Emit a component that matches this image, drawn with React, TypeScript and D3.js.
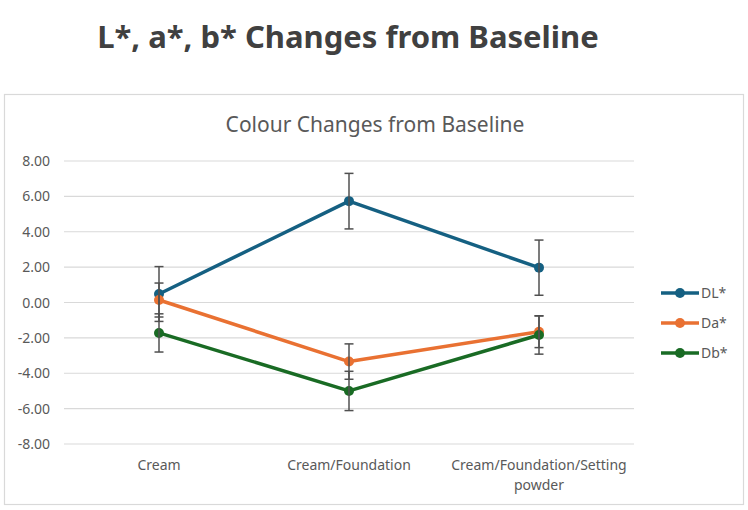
import { useEffect, useRef } from "react";
import * as d3 from "d3";

const width = 748;
const height = 510;

const categories = ["Cream", "Cream/Foundation", "Cream/Foundation/Setting powder"];
const seriesNames = ["DL*", "Da*", "Db*"];
const colors = ["#156082", "#E97132", "#196B24"];

// means and error amounts per series
const dlValues = [0.48, 5.73, 1.97];
const daValues = [0.14, -3.34, -1.65];
const dbValues = [-1.72, -5.0, -1.84];
const dlErrors = [1.55, 1.57, 1.56];
const daErrors = [0.96, 1.0, 0.9];
const dbErrors = [1.08, 1.11, 1.08];

const yTicks = [-8, -6, -4, -2, 0, 2, 4, 6, 8];

export default function App() {
    const ref = useRef<SVGSVGElement>(null);

    useEffect(() => {
        const svg = d3.select(ref.current);
        svg.selectAll("*").remove();

        const series = [dlValues, daValues, dbValues].map((vals, i) => ({
            name: seriesNames[i],
            color: colors[i],
            points: vals.map((v, j) => ({ cat: categories[j], value: v, err: [dlErrors, daErrors, dbErrors][i][j] })),
        }));

        const x = d3.scalePoint<string>().domain(categories).range([64, 634]).padding(0.5);
        const y = d3.scaleLinear().domain([-8, 8]).range([444, 161]);

        svg.append("rect")
            .attr("width", width).attr("height", height).attr("fill", "#fff");

        // page title
        svg.append("text")
            .attr("x", 348).attr("y", 48)
            .attr("text-anchor", "middle")
            .attr("font-family", "Noto Sans")
            .attr("font-weight", "bold")
            .attr("font-size", 31)
            .attr("fill", "#404040")
            .text("L*, a*, b* Changes from Baseline");

        // chart frame
        svg.append("rect")
            .attr("x", 4.5).attr("y", 94.5)
            .attr("width", 739).attr("height", 410)
            .attr("fill", "#fff")
            .attr("stroke", "#d9d9d9")
            .attr("stroke-width", 1.2);

        svg.append("text")
            .attr("x", 375).attr("y", 132)
            .attr("text-anchor", "middle")
            .attr("font-family", "Noto Sans")
            .attr("font-size", 21)
            .attr("fill", "#595959")
            .text("Colour Changes from Baseline");

        // grid
        svg.append("g").selectAll("line")
            .data(yTicks).enter().append("line")
                .attr("x1", 64).attr("x2", 634)
                .attr("y1", d => y(d)).attr("y2", d => y(d))
                .attr("stroke", "#d9d9d9")
                .attr("stroke-width", 1.2);

        svg.append("g").selectAll("text")
            .data(yTicks).enter().append("text")
                .attr("x", 50).attr("y", d => y(d) + 5)
                .attr("text-anchor", "end")
                .attr("font-family", "Noto Sans")
                .attr("font-size", 14)
                .attr("fill", "#595959")
                .text(d => d.toFixed(2));

        // category labels, last one wraps
        const xl = svg.append("g");
        categories.forEach(c => {
            const parts = c === "Cream/Foundation/Setting powder" ? ["Cream/Foundation/Setting", "powder"] : [c];
            parts.forEach((p, k) => {
                xl.append("text")
                    .attr("x", x(c)!).attr("y", 470 + k * 20)
                    .attr("text-anchor", "middle")
                    .attr("font-family", "Noto Sans")
                    .attr("font-size", 14)
                    .attr("fill", "#595959")
                    .text(p);
            });
        });

        const line = d3.line<{ cat: string, value: number }>()
            .x(d => x(d.cat)!)
            .y(d => y(d.value));

        series.forEach(s => {
            const g = svg.append("g");
            g.append("path")
                .attr("d", line(s.points))
                .attr("fill", "none")
                .attr("stroke", s.color)
                .attr("stroke-width", 3.5)
                .attr("stroke-linejoin", "round");
            g.selectAll("circle")
                .data(s.points).enter().append("circle")
                    .attr("cx", d => x(d.cat)!)
                    .attr("cy", d => y(d.value))
                    .attr("r", 5)
                    .attr("fill", s.color);
        });

        // error bars on top
        series.forEach(s => {
            const g = svg.append("g")
                .attr("stroke", "#505050")
                .attr("stroke-width", 1.5);
            s.points.forEach(p => {
                const cx = x(p.cat)!;
                const top = y(p.value + p.err);
                const bot = y(p.value - p.err);
                g.append("line").attr("x1", cx).attr("x2", cx).attr("y1", top).attr("y2", bot);
                g.append("line").attr("x1", cx - 4.5).attr("x2", cx + 4.5).attr("y1", top).attr("y2", top);
                g.append("line").attr("x1", cx - 4.5).attr("x2", cx + 4.5).attr("y1", bot).attr("y2", bot);
            });
        });

        // legend
        const legend = svg.append("g");
        series.forEach((s, i) => {
            const ly = 293 + i * 30;
            legend.append("line")
                .attr("x1", 661).attr("x2", 699)
                .attr("y1", ly).attr("y2", ly)
                .attr("stroke", s.color)
                .attr("stroke-width", 3.5);
            legend.append("circle")
                .attr("cx", 680).attr("cy", ly).attr("r", 5)
                .attr("fill", s.color);
            legend.append("text")
                .attr("x", 701).attr("y", ly + 5)
                .attr("font-family", "Noto Sans")
                .attr("font-size", 14)
                .attr("fill", "#595959")
                .text(s.name);
        });
    }, []);

    return (
        <svg ref={ref} width={width} height={height}
            style={{ position: "absolute", left: 0, top: 0, display: "block" }} />
    );
}
